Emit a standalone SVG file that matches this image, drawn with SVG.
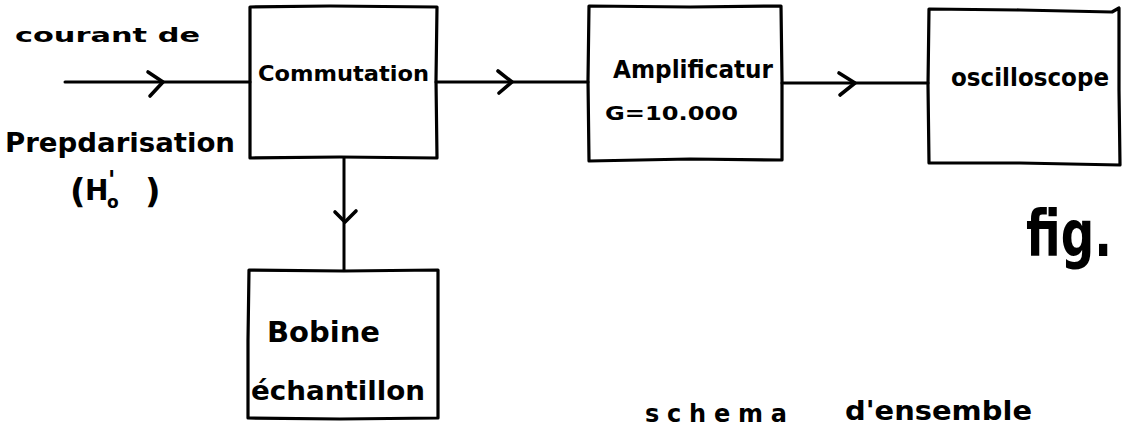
<svg xmlns="http://www.w3.org/2000/svg" width="1122" height="428" viewBox="0 0 1122 428">
  <style>
    .box { fill: none; stroke: #000; stroke-width: 3.2; stroke-linejoin: round; stroke-linecap: round; }
    .wire { fill: none; stroke: #000; stroke-width: 3; stroke-linecap: round; }
    .head { fill: none; stroke: #000; stroke-width: 3.6; stroke-linecap: round; stroke-linejoin: round; }
    .lbl { font-family: "DejaVu Sans", "Liberation Sans", sans-serif; font-weight: 700; fill: #000; }
  </style>
  <rect width="1122" height="428" fill="#fff"/>

  <!-- connectors -->
  <g id="connectors">
    <path class="wire" d="M65,82 L250,82"/>
    <path class="head" d="M148,72 L163,82 L150,96"/>
    <path class="wire" d="M436,82 L588,82"/>
    <path class="head" d="M498,71 L512,82 L499,93"/>
    <path class="wire" d="M782,83 L928,83"/>
    <path class="head" d="M839,73 L855,83 L840,95"/>
    <path class="wire" d="M344,158 L344,270"/>
    <path class="head" d="M335,212 L345,222 L356,211"/>
  </g>

  <!-- input labels -->
  <g id="input-label">
    <text class="lbl" x="15" y="42" font-size="20" textLength="185" lengthAdjust="spacingAndGlyphs">courant de</text>
    <text class="lbl" x="5" y="152" font-size="26" textLength="230" lengthAdjust="spacingAndGlyphs">Prepdarisation</text>
    <!-- (H'o) : prime above, zero subscript below -->
    <text class="lbl" font-size="34"><tspan x="70" y="203">(</tspan><tspan x="85" y="200" font-size="28">H</tspan><tspan x="108" y="188" font-size="24">'</tspan><tspan x="107" y="208" font-size="17">o</tspan><tspan x="145" y="203">)</tspan></text>
  </g>

  <!-- Commutation -->
  <g id="commutation">
    <path class="box" d="M250,7 L330,6 L437,7 L436,80 L437,158 L340,157 L250,158 L250,80 Z"/>
    <text class="lbl" x="258" y="81" font-size="22" textLength="171" lengthAdjust="spacingAndGlyphs">Commutation</text>
  </g>

  <!-- Amplificateur -->
  <g id="amplificateur">
    <path class="box" d="M589,6 L690,7 L781,6 L782,80 L782,160 L690,159 L589,161 L588,80 Z"/>
    <text class="lbl" x="613" y="78" font-size="24" textLength="160" lengthAdjust="spacingAndGlyphs">Amplificatur</text>
    <text class="lbl" x="605" y="120" font-size="20" textLength="133" lengthAdjust="spacingAndGlyphs">G=10.000</text>
  </g>

  <!-- Oscilloscope -->
  <g id="oscilloscope">
    <path class="box" d="M929,9 L1020,10 L1112,12 L1119,8 L1119,90 L1120,165 L1020,163 L929,163 L928,85 Z"/>
    <text class="lbl" x="951" y="86" font-size="25" textLength="158" lengthAdjust="spacingAndGlyphs">oscilloscope</text>
  </g>

  <!-- Bobine échantillon -->
  <g id="bobine">
    <path class="box" d="M249,270 L344,271 L438,270 L438,340 L438,418 L340,419 L248,418 L248,340 Z"/>
    <text class="lbl" x="267" y="342" font-size="28" textLength="113" lengthAdjust="spacingAndGlyphs">Bobine</text>
    <text class="lbl" x="251" y="400" font-size="27" textLength="174" lengthAdjust="spacingAndGlyphs">échantillon</text>
  </g>

  <!-- figure marks -->
  <g id="caption">
    <g transform="translate(1026,256) scale(1,1.35)">
      <text class="lbl" x="0" y="0" font-size="48" textLength="86" lengthAdjust="spacingAndGlyphs">fig.</text>
    </g>
    <text class="lbl" x="645" y="422" font-size="24" textLength="142" lengthAdjust="spacing">schema</text>
    <text class="lbl" x="845" y="420" font-size="26" textLength="187" lengthAdjust="spacingAndGlyphs">d'ensemble</text>
  </g>
</svg>
